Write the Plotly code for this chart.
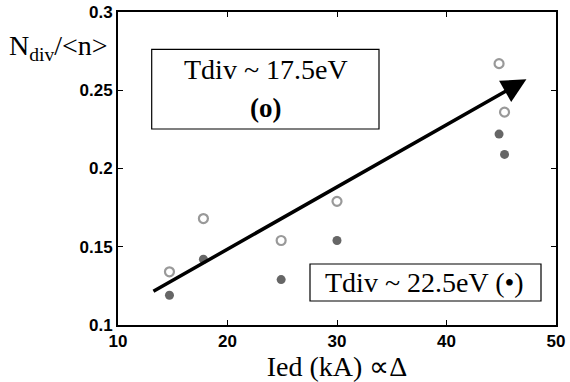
import plotly.graph_objects as go

ied_open = [14.7, 17.8, 24.9, 30.0, 44.8, 45.3]
ndiv_open = [0.134, 0.168, 0.154, 0.179, 0.267, 0.236]
ied_filled = [14.7, 17.8, 24.9, 30.0, 44.8, 45.3]
ndiv_filled = [0.119, 0.142, 0.129, 0.154, 0.222, 0.209]
arrow_start = (13.1, 0.121)
arrow_end = (47.3, 0.257)
x_ticks = [10, 20, 30, 40, 50]
y_ticks = [0.1, 0.15, 0.2, 0.25, 0.3]
y_tick_labels = ["0.1", "0.15", "0.2", "0.25", "0.3"]

L, R, T, B = 118, 556, 12, 325
W, H = R - L, B - T
def px(x):
    return (x - L) / W
def py(y):
    return (B - y) / H

fig = go.Figure()
fig.add_trace(go.Scatter(x=ied_open, y=ndiv_open, mode="markers",
                         marker=dict(symbol="circle-open", size=9, color="#999999", line=dict(width=2.2)),
                         showlegend=False))
fig.add_trace(go.Scatter(x=ied_filled, y=ndiv_filled, mode="markers",
                         marker=dict(symbol="circle", size=9, color="#666666"),
                         showlegend=False))

fig.add_annotation(x=arrow_end[0], y=arrow_end[1], ax=arrow_start[0], ay=arrow_start[1],
                   xref="x", yref="y", axref="x", ayref="y", text="",
                   showarrow=True, arrowhead=2, arrowsize=1.4, arrowwidth=3.5,
                   arrowcolor="black", standoff=0)

serif = "Liberation Serif, Times New Roman, serif"
# box 1
fig.add_shape(type="rect", xref="paper", yref="paper",
              x0=px(151.7), x1=px(379), y0=py(129), y1=py(49.3),
              line=dict(color="black", width=1.2), fillcolor="white", layer="below")
fig.add_annotation(xref="paper", yref="paper", x=px(265.5), y=py(70),
                   xanchor="center", yanchor="middle",
                   text="Tdiv ~ 17.5eV", showarrow=False, font=dict(family=serif, size=28, color="black"))
fig.add_annotation(xref="paper", yref="paper", x=px(265.5), y=py(108),
                   xanchor="center", yanchor="middle",
                   text="<b>(o)</b>", showarrow=False, font=dict(family=serif, size=27, color="black"))
# box 2
fig.add_shape(type="rect", xref="paper", yref="paper",
              x0=px(310), x1=px(541), y0=py(301), y1=py(264),
              line=dict(color="black", width=1.2), fillcolor="white", layer="below")
fig.add_annotation(xref="paper", yref="paper", x=px(424), y=py(282.5),
                   xanchor="center", yanchor="middle",
                   text="Tdiv ~ 22.5eV (\u2022)", showarrow=False,
                   font=dict(family=serif, size=28, color="black"))

# y title
fig.add_annotation(xref="paper", yref="paper", x=px(58), y=py(47),
                   xanchor="center", yanchor="middle",
                   text="N<sub>div</sub>/&lt;n&gt;", showarrow=False,
                   font=dict(family=serif, size=28, color="black"))

tickfont = dict(family="Liberation Sans, Arial, sans-serif", size=17, color="black", weight="bold")
fig.update_xaxes(range=[10, 50], tickvals=x_ticks, ticktext=[str(v) for v in x_ticks],
                 ticks="inside", ticklen=5, tickwidth=1, tickcolor="black",
                 showline=True, linewidth=2, linecolor="black", mirror="ticks",
                 showgrid=False, zeroline=False, tickfont=tickfont,
                 title=dict(text="Ied (kA) \u221D\u0394", font=dict(family=serif, size=28, color="black"), standoff=0))
fig.update_yaxes(range=[0.1, 0.3], tickvals=y_ticks, ticktext=y_tick_labels,
                 ticks="inside", ticklen=5, tickwidth=1, tickcolor="black",
                 showline=True, linewidth=2, linecolor="black", mirror="ticks",
                 showgrid=False, zeroline=False, tickfont=tickfont)
fig.update_layout(width=570, height=382, margin=dict(l=L, r=570 - R, t=T, b=382 - B, autoexpand=False),
                  plot_bgcolor="white", paper_bgcolor="white")
fig.write_html("out.html", config={"displayModeBar": False},
               post_script="document.body.style.margin='0px';")
